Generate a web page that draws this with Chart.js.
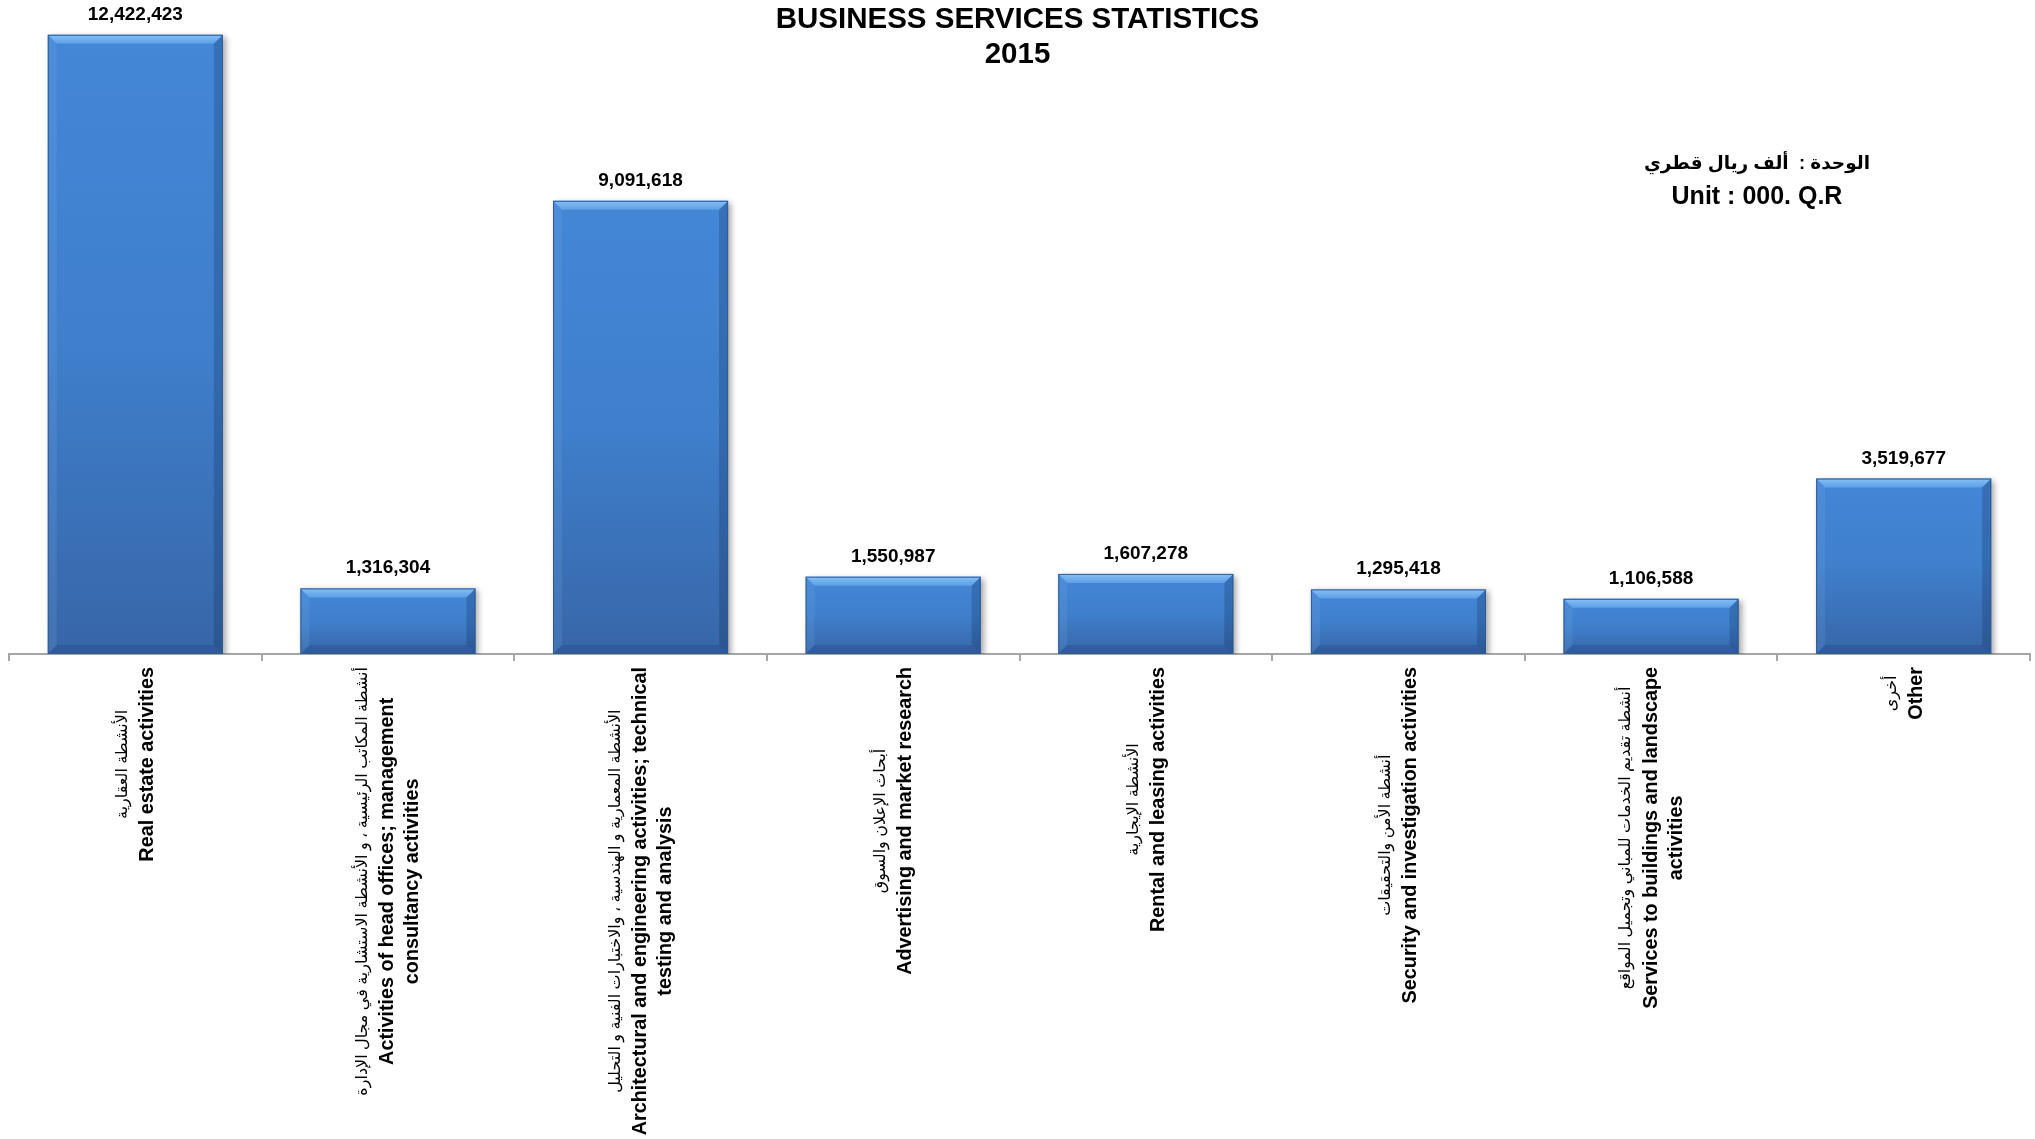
<!DOCTYPE html>
<html>
<head>
<meta charset="utf-8">
<script src="https://cdn.jsdelivr.net/npm/chart.js@4.4.1/dist/chart.umd.min.js"></script>
<style>
  body { margin: 0; background: #fff; }
  #wrap { position: relative; width: 2035px; height: 1139px; }
  .txt { position: absolute; left: 0; width: 2035px; text-align: center; font-family: "Liberation Sans", Arial, sans-serif; font-weight: bold; color: #000; }
  #title { top: 0px; font-size: 29.5px; line-height: 35px; }
  #unit { left: 1557px; width: 400px; top: 147px; font-size: 25px; line-height: 32px; }
  #unit .ar { font-family: "Liberation Sans", "DejaVu Sans", sans-serif; font-size: 18.5px; }
</style>
</head>
<body>
<div id="wrap">
  <canvas id="bar"></canvas>
  <div class="txt" id="title">BUSINESS SERVICES STATISTICS<br>2015</div>
  <div class="txt" id="unit"><div class="ar" dir="rtl">الوحدة :&nbsp;&nbsp;ألف ريال قطري</div>Unit : 000. Q.R</div>
</div>
<script>
// categories (arabic line + english lines)
const arabicLabels = [
    "الأنشطة العقارية",
    "أنشطة المكاتب الرئيسية ، و الأنشطة الاستشارية في مجال الإدارة",
    "الأنشطة المعمارية و الهندسية ، والاختبارات الفنية و التحليل",
    "أبحاث الإعلان والسوق",
    "الأنشطة الإيجارية",
    "أنشطة الأمن والتحقيقات",
    "أنشطة تقديم الخدمات للمباني وتجميل المواقع",
    "أخرى"
];
const englishLabels = [
    ["Real estate activities"],
    ["Activities of head offices; management", "consultancy activities"],
    ["Architectural and engineering activities; technical", "testing and analysis"],
    ["Advertising and market research"],
    ["Rental and leasing activities"],
    ["Security and investigation activities"],
    ["Services to buildings and landscape", "activities"],
    ["Other"]
];
const values = [12422423, 1316304, 9091618, 1550987, 1607278, 1295418, 1106588, 3519677];
const yMax = 13000000;

const enFont = 'bold 19.8px "Liberation Sans", Arial, sans-serif';
const arFont = '16px "Liberation Sans", "DejaVu Sans", sans-serif';

// bevel + shadow + value labels + category labels
const decor = {
    id: "decor",
    beforeDatasetsDraw(chart) {
        const c = chart.ctx;
        c.save();
        c.shadowColor = "rgba(0,0,0,0.35)";
        c.shadowBlur = 6;
        c.shadowOffsetX = 3;
        c.shadowOffsetY = 2;
    },
    afterDatasetsDraw(chart) {
        const c = chart.ctx;
        c.restore();
        const meta = chart.getDatasetMeta(0);
        meta.data.forEach((bar, i) => {
            const L = bar.x - bar.width / 2, R = bar.x + bar.width / 2;
            const T = bar.y, B = bar.base, b = 9;
            if (!isFinite(T) || !isFinite(B)) return;
            c.save();
            // top bevel
            let g = c.createLinearGradient(0, T, 0, T + b);
            g.addColorStop(0, "#86C0F6");
            g.addColorStop(1, "#5C9FE6");
            c.fillStyle = g;
            c.beginPath();
            c.moveTo(L, T); c.lineTo(R, T); c.lineTo(R - b, T + b); c.lineTo(L + b, T + b); c.closePath();
            c.fill();
            // left bevel
            c.fillStyle = "rgba(120,170,230,0.18)";
            c.beginPath();
            c.moveTo(L, T); c.lineTo(L + b, T + b); c.lineTo(L + b, B - b); c.lineTo(L, B); c.closePath();
            c.fill();
            // right bevel
            c.fillStyle = "rgba(10,30,70,0.22)";
            c.beginPath();
            c.moveTo(R, T); c.lineTo(R - b, T + b); c.lineTo(R - b, B - b); c.lineTo(R, B); c.closePath();
            c.fill();
            // bottom bevel
            c.fillStyle = "rgba(10,30,70,0.15)";
            c.beginPath();
            c.moveTo(L, B); c.lineTo(L + b, B - b); c.lineTo(R - b, B - b); c.lineTo(R, B); c.closePath();
            c.fill();
            c.strokeStyle = "#2D5B97";
            c.lineWidth = 1;
            c.strokeRect(L + 0.5, T + 0.5, bar.width - 1, B - T - 1);
            // value label
            c.fillStyle = "#000";
            c.font = 'bold 19px "Liberation Sans", Arial, sans-serif';
            c.textAlign = "center";
            c.textBaseline = "alphabetic";
            c.fillText(values[i].toLocaleString("en-US"), bar.x, T - 15);
            c.restore();
        });

        // category labels, rotated, lines centred on each other
        const xs = chart.scales.x;
        const base = chart.chartArea.bottom;
        englishLabels.forEach((en, i) => {
            const lines = [{ t: arabicLabels[i], f: arFont, ar: true }].concat(en.map(t => ({ t: t, f: enFont })));
            let maxW = 0;
            lines.forEach(l => { c.font = l.f; l.w = c.measureText(l.t).width; maxW = Math.max(maxW, l.w); });
            const x = xs.getPixelForValue(i);
            c.save();
            c.translate(x, base);
            c.rotate(-Math.PI / 2);
            c.fillStyle = "#000";
            c.textAlign = "center";
            c.textBaseline = "middle";
            const n = lines.length;
            lines.forEach((l, k) => {
                c.font = l.f;
                c.direction = l.ar ? "rtl" : "ltr";
                c.fillText(l.t, -(13 + maxW / 2), (k - (n - 1) / 2) * 25);
            });
            c.restore();
        });
    }
};

const ctx = document.getElementById("bar").getContext("2d");
new Chart(ctx, {
    type: "bar",
    data: {
        labels: englishLabels.map(l => l.join(" ")),
        datasets: [{
            data: values,
            backgroundColor: function (context) {
                const chart = context.chart;
                const ys = chart.scales.y;
                const top = ys ? ys.getPixelForValue(values[context.dataIndex]) : NaN;
                const bottom = ys ? ys.getPixelForValue(0) : NaN;
                if (!isFinite(top) || !isFinite(bottom) || top === bottom) return "#3F7FCC";
                const g = chart.ctx.createLinearGradient(0, top, 0, bottom);
                g.addColorStop(0, "#4487D7");
                g.addColorStop(0.5, "#3F7FCC");
                g.addColorStop(1, "#3766A8");
                return g;
            },
            borderWidth: 0,
            categoryPercentage: 1,
            barPercentage: 0.693
        }]
    },
    options: {
        responsive: true,
        maintainAspectRatio: false,
        animation: false,
        devicePixelRatio: 1,
        layout: { padding: { top: 6, left: 9, right: 5, bottom: 478 } },
        plugins: { legend: { display: false }, tooltip: { enabled: false } },
        scales: {
            x: {
                ticks: { display: false },
                grid: { drawOnChartArea: false, drawTicks: true, tickLength: 7, color: "#A6A6A6", lineWidth: 2 },
                border: { color: "#A6A6A6", width: 2 }
            },
            y: { display: false, min: 0, max: yMax }
        }
    },
    plugins: [decor]
});
</script>
</body>
</html>
